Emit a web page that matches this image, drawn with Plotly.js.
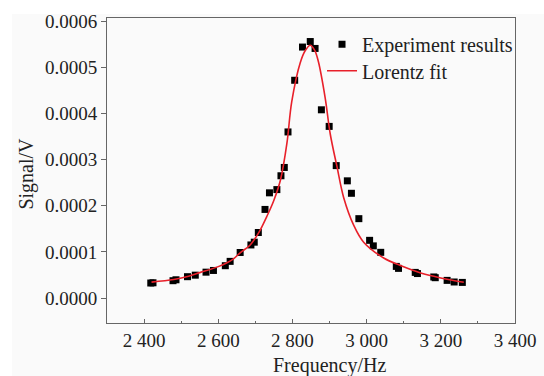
<!DOCTYPE html>
<html>
<head>
<meta charset="utf-8">
<script src="https://cdn.plot.ly/plotly-3.0.1.min.js"></script>
<style>
html,body{margin:0;padding:0;background:#ffffff;}
#bg{position:absolute;left:12px;top:14px;width:532px;height:362px;background:#fafafa;}
#chart{position:absolute;left:0;top:0;width:544px;height:376px;}
</style>
</head>
<body>
<div id="bg"></div>
<div id="chart"></div>
<script>
// Experimental points (Hz, V)
const expFreq = [2418, 2424, 2478, 2486, 2517, 2538, 2567, 2587, 2619, 2632, 2659, 2688, 2697, 2708, 2726, 2738, 2758, 2769, 2778, 2788, 2806, 2827, 2848, 2861, 2878, 2899, 2918, 2948, 2959, 2979, 3008, 3018, 3038, 3080, 3086, 3131, 3137, 3181, 3185, 3217, 3236, 3258];
const expSignal = [0.0000325, 0.0000330, 0.0000375, 0.0000395, 0.0000462, 0.0000495, 0.0000560, 0.0000597, 0.0000700, 0.0000794, 0.0000987, 0.000115, 0.000121, 0.000142, 0.000192, 0.000228, 0.000235, 0.000265, 0.000283, 0.000360, 0.000472, 0.000544, 0.000556, 0.000541, 0.000408, 0.000372, 0.000287, 0.000254, 0.000227, 0.000172, 0.000125, 0.000113, 0.0000990, 0.0000685, 0.0000642, 0.0000555, 0.0000530, 0.0000456, 0.0000440, 0.0000382, 0.0000347, 0.0000338];

// Lorentz fit curve
const fitFreq = [2420, 2480, 2520, 2550, 2600, 2641, 2659, 2686, 2710, 2731, 2750, 2768, 2785, 2798, 2821, 2835, 2848, 2860, 2870, 2888, 2902, 2920, 2938, 2965, 2992, 3046, 3091, 3140, 3181, 3220, 3262];
const fitSignal = [0.0000345, 0.0000400, 0.0000470, 0.0000550, 0.0000680, 0.0000850, 0.0000980, 0.000115, 0.000143, 0.000177, 0.000212, 0.000257, 0.000335, 0.000425, 0.000510, 0.000537, 0.000548, 0.000537, 0.000512, 0.000435, 0.000355, 0.000285, 0.000218, 0.000158, 0.000121, 0.0000868, 0.0000705, 0.0000560, 0.0000470, 0.0000400, 0.0000340];

const xTickVals = [2400, 2600, 2800, 3000, 3200, 3400];
const xTickText = ['2 400', '2 600', '2 800', '3 000', '3 200', '3 400'];
const yTickVals = [0, 0.0001, 0.0002, 0.0003, 0.0004, 0.0005, 0.0006];

const font = {family: '"Liberation Serif", "Times New Roman", serif', size: 19, color: '#222222'};
const legFont = {family: font.family, size: 20, color: '#222222'};

const traces = [
  {
    x: expFreq, y: expSignal, type: 'scatter', mode: 'markers',
    name: 'Experiment results', legend: 'legend',
    marker: {symbol: 'square', size: 7, color: '#000000'}
  },
  {
    x: fitFreq, y: fitSignal, type: 'scatter', mode: 'lines',
    name: 'Lorentz fit', legend: 'legend2',
    line: {color: '#e8202a', width: 1.6, shape: 'spline', smoothing: 1}
  }
];

const layout = {
  width: 544, height: 376,
  margin: {l: 107, r: 29, t: 18, b: 53},
  paper_bgcolor: 'rgba(0,0,0,0)',
  plot_bgcolor: '#fafafa',
  font: font,
  showlegend: true,
  legend: {
    x: 0.527, y: 0.978, xanchor: 'left', yanchor: 'top',
    bgcolor: 'rgba(0,0,0,0)', borderwidth: 0, font: legFont, itemwidth: 30
  },
  legend2: {
    x: 0.527, y: 0.891, xanchor: 'left', yanchor: 'top',
    bgcolor: 'rgba(0,0,0,0)', borderwidth: 0, font: legFont, itemwidth: 30
  },
  xaxis: {
    range: [2300, 3400],
    tickvals: xTickVals, ticktext: xTickText,
    ticks: 'inside', ticklen: 4, tickcolor: '#666666',
    minor: {dtick: 100, tick0: 2300, ticks: 'inside', ticklen: 2, tickcolor: '#666666'},
    showline: true, linecolor: '#666666', linewidth: 1, mirror: true,
    showgrid: false, zeroline: false,
    tickfont: font
  },
  yaxis: {
    range: [-0.0000542, 0.000607],
    tickvals: yTickVals, tickformat: '.4f',
    ticks: 'outside', ticklen: 5, tickcolor: '#666666',
    showline: true, linecolor: '#666666', linewidth: 1, mirror: true,
    showgrid: false, zeroline: false,
    tickfont: font
  },
  annotations: [
    {text: 'Frequency/Hz', xref: 'x', yref: 'paper', x: 2900, y: -0.14,
     xanchor: 'center', yanchor: 'middle', showarrow: false, font: legFont},
    {text: 'Signal/V', xref: 'paper', yref: 'paper', x: -0.196, y: 0.49,
     xanchor: 'center', yanchor: 'middle', textangle: -90, showarrow: false, font: legFont}
  ]
};

Plotly.newPlot('chart', traces, layout, {displayModeBar: false, staticPlot: true});
</script>
</body>
</html>
